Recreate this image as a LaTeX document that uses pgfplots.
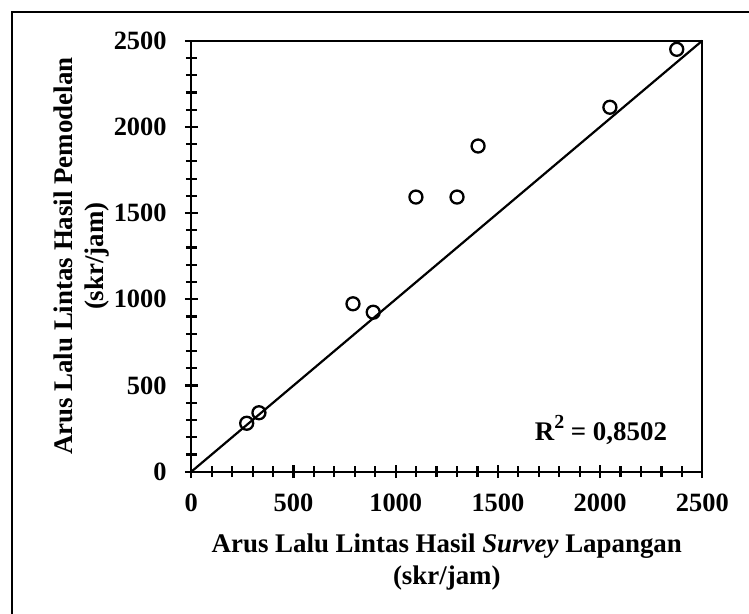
\documentclass[border=0pt]{standalone}
\usepackage{fontspec}
\setmainfont{Liberation Serif}
\usepackage{pgfplots}
\pgfplotsset{compat=1.18}
\begin{document}
\begin{tikzpicture}
\useasboundingbox (0,0) rectangle (749bp,614bp);
\begin{scope}
\clip (0,0) rectangle (749bp,614bp);
\draw[line width=2bp] (12bp,-30bp) rectangle (790bp,602.3bp);
\end{scope}
\begin{axis}[
  at={(191.3bp,142.3bp)}, anchor=south west,
  scale only axis, width=511bp, height=431bp,
  xmin=0, xmax=2500, ymin=0, ymax=2500,
  xtick={0,500,...,2500}, ytick={0,500,...,2500},
  minor tick num=4,
  tick pos=left, tick align=center,
  major tick length=13bp, minor tick length=11bp,
  axis line style={line width=2.2bp},
  every tick/.style={black, line width=2.2bp},
  every minor tick/.style={black, line width=2.2bp},
  /pgf/number format/assume math mode=true,
  /pgf/number format/set thousands separator={},
  ticklabel style={font=\fontsize{26.5}{31}\selectfont\bfseries, inner sep=0pt},
  xticklabel style={anchor=north, yshift=-16bp},
  yticklabel style={anchor=east, xshift=-18bp},
  label style={font=\fontsize{27}{31.5}\selectfont\bfseries, inner sep=0pt, align=center},
  xlabel={Arus Lalu Lintas Hasil \textit{Survey} Lapangan\\(skr/jam)},
  xlabel style={at={(axis description cs:0.5,-0.1446)}, anchor=north},
  ylabel={Arus Lalu Lintas Hasil Pemodelan\\(skr/jam)},
  ylabel style={at={(axis description cs:-0.2701,0.5)}, anchor=north},
  clip=false,
]
\addplot[black, line width=2.2bp, no marks] coordinates {(0,0) (2500,2500)};
\addplot[only marks, mark=o, mark size=6.5bp, mark options={line width=2.3bp, black}] coordinates {
(271,281) (331,342) (791,974) (890,925) (1099,1593) (1300,1593) (1403,1889) (2048,2114) (2375,2450)
};
\node[anchor=base, font=\fontsize{27}{31}\selectfont\bfseries, inner sep=0pt] at (axis cs:2004,180) {R\raisebox{0.45em}{\fontsize{20}{20}\selectfont 2} = 0,8502};
\end{axis}
\end{tikzpicture}
\end{document}
